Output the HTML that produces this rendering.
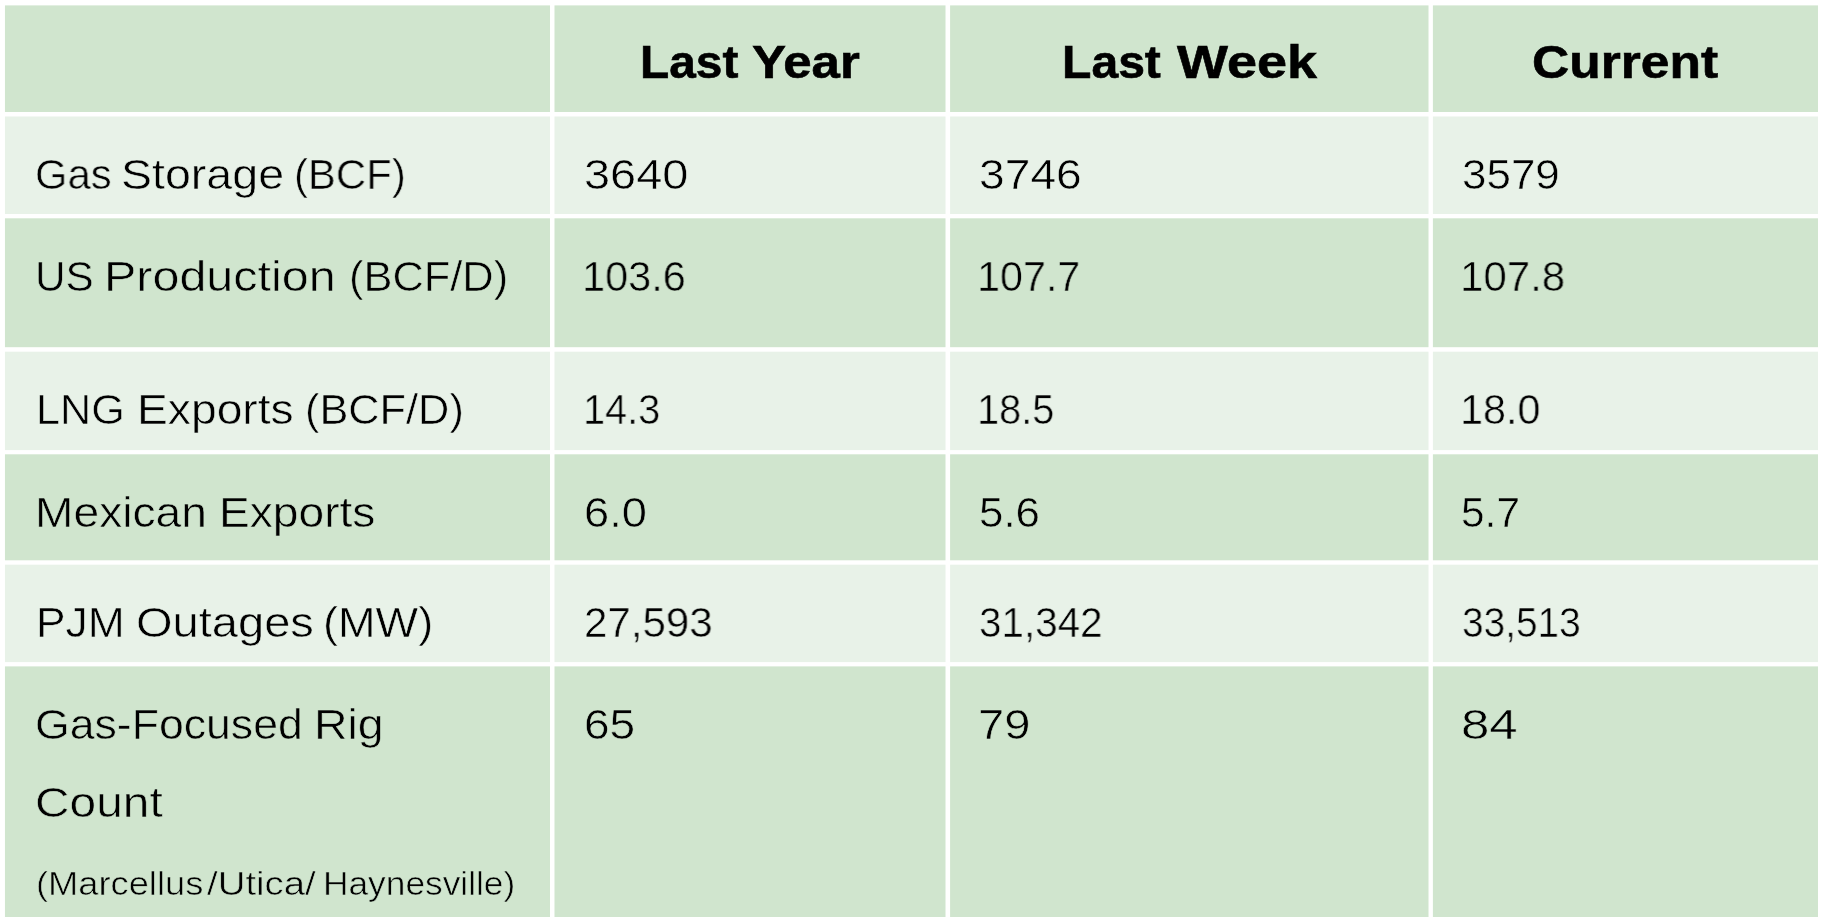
<!DOCTYPE html>
<html lang="en"><head><meta charset="utf-8"><title>Natural Gas Market Fundamentals</title><style>
html,body{margin:0;padding:0;background:#fff;width:1825px;height:924px;overflow:hidden}
.bg{position:absolute;left:0;top:0}
.t{position:absolute;left:0;white-space:nowrap;color:#000;font-family:"Liberation Sans", Arial, sans-serif;line-height:1;font-size:42.3px}
.t span{position:absolute;top:0;transform-origin:0 0;will-change:transform}
.h{font-weight:700;font-size:46.5px;-webkit-text-stroke:0.6px #000}
.s{font-size:32.9px}
.L{-webkit-text-stroke:0.55px #e8f2e8}.D{-webkit-text-stroke:0.55px #d0e5ce}
</style></head><body>
<svg class="bg" width="1825" height="924" viewBox="0 0 1825 924">
<rect x="4.95" y="5.4" width="545.05" height="106.6" fill="#d0e5ce"/>
<rect x="554.5" y="5.4" width="391" height="106.6" fill="#d0e5ce"/>
<rect x="950.1" y="5.4" width="478.4" height="106.6" fill="#d0e5ce"/>
<rect x="1432.9" y="5.4" width="385.1" height="106.6" fill="#d0e5ce"/>
<rect x="4.95" y="116.5" width="545.05" height="97.5" fill="#e8f2e8"/>
<rect x="554.5" y="116.5" width="391" height="97.5" fill="#e8f2e8"/>
<rect x="950.1" y="116.5" width="478.4" height="97.5" fill="#e8f2e8"/>
<rect x="1432.9" y="116.5" width="385.1" height="97.5" fill="#e8f2e8"/>
<rect x="4.95" y="218.3" width="545.05" height="128.9" fill="#d0e5ce"/>
<rect x="554.5" y="218.3" width="391" height="128.9" fill="#d0e5ce"/>
<rect x="950.1" y="218.3" width="478.4" height="128.9" fill="#d0e5ce"/>
<rect x="1432.9" y="218.3" width="385.1" height="128.9" fill="#d0e5ce"/>
<rect x="4.95" y="351.7" width="545.05" height="98.4" fill="#e8f2e8"/>
<rect x="554.5" y="351.7" width="391" height="98.4" fill="#e8f2e8"/>
<rect x="950.1" y="351.7" width="478.4" height="98.4" fill="#e8f2e8"/>
<rect x="1432.9" y="351.7" width="385.1" height="98.4" fill="#e8f2e8"/>
<rect x="4.95" y="454.3" width="545.05" height="106" fill="#d0e5ce"/>
<rect x="554.5" y="454.3" width="391" height="106" fill="#d0e5ce"/>
<rect x="950.1" y="454.3" width="478.4" height="106" fill="#d0e5ce"/>
<rect x="1432.9" y="454.3" width="385.1" height="106" fill="#d0e5ce"/>
<rect x="4.95" y="564.7" width="545.05" height="97.4" fill="#e8f2e8"/>
<rect x="554.5" y="564.7" width="391" height="97.4" fill="#e8f2e8"/>
<rect x="950.1" y="564.7" width="478.4" height="97.4" fill="#e8f2e8"/>
<rect x="1432.9" y="564.7" width="385.1" height="97.4" fill="#e8f2e8"/>
<rect x="4.95" y="666.4" width="545.05" height="250.6" fill="#d0e5ce"/>
<rect x="554.5" y="666.4" width="391" height="250.6" fill="#d0e5ce"/>
<rect x="950.1" y="666.4" width="478.4" height="250.6" fill="#d0e5ce"/>
<rect x="1432.9" y="666.4" width="385.1" height="250.6" fill="#d0e5ce"/>
</svg>
<div class="t h" style="top:38.80px"><span class="w0" style="left:639.78px;transform:scaleX(1.0281)">Last </span><span class="w1" style="left:751.63px;transform:scaleX(1.0973)">Year</span></div>
<div class="t h" style="top:38.80px"><span class="w0" style="left:1062.02px;transform:scaleX(1.0343)">Last </span><span class="w1" style="left:1176.70px;transform:scaleX(1.1610)">Week</span></div>
<div class="t h" style="top:38.80px"><span class="w0" style="left:1531.80px;transform:scaleX(1.1084)">Current</span></div>
<div class="t L" style="top:153.80px"><span class="w0" style="left:34.72px;transform:scaleX(0.9870)">Gas </span><span class="w1" style="left:121.18px;transform:scaleX(1.1004)">Storage </span><span class="w2" style="left:294.08px;transform:scaleX(0.9912)">(BCF)</span></div>
<div class="t L" style="top:153.80px"><span class="w0" style="left:583.58px;transform:scaleX(1.1088)">3640</span></div>
<div class="t L" style="top:153.80px"><span class="w0" style="left:978.66px;transform:scaleX(1.0922)">3746</span></div>
<div class="t L" style="top:153.80px"><span class="w0" style="left:1462.33px;transform:scaleX(1.0395)">3579</span></div>
<div class="t D" style="top:255.70px"><span class="w0" style="left:35.42px;transform:scaleX(0.9932)">US </span><span class="w1" style="left:104.41px;transform:scaleX(1.1455)">Production </span><span class="w2" style="left:348.64px;transform:scaleX(1.0259)">(BCF/D)</span></div>
<div class="t D" style="top:255.70px"><span class="w0" style="left:581.86px;transform:scaleX(0.9814)">103.6</span></div>
<div class="t D" style="top:255.70px"><span class="w0" style="left:977.49px;transform:scaleX(0.9764)">107.7</span></div>
<div class="t D" style="top:255.70px"><span class="w0" style="left:1460.37px;transform:scaleX(0.9941)">107.8</span></div>
<div class="t L" style="top:389.10px"><span class="w0" style="left:35.96px;transform:scaleX(1.0220)">LNG </span><span class="w1" style="left:136.57px;transform:scaleX(1.0929)">Exports </span><span class="w2" style="left:304.86px;transform:scaleX(1.0242)">(BCF/D)</span></div>
<div class="t L" style="top:389.10px"><span class="w0" style="left:582.80px;transform:scaleX(0.9389)">14.3</span></div>
<div class="t L" style="top:389.10px"><span class="w0" style="left:977.26px;transform:scaleX(0.9400)">18.5</span></div>
<div class="t L" style="top:389.10px"><span class="w0" style="left:1460.49px;transform:scaleX(0.9775)">18.0</span></div>
<div class="t D" style="top:492.00px"><span class="w0" style="left:35.23px;transform:scaleX(1.0920)">Mexican </span><span class="w1" style="left:218.82px;transform:scaleX(1.0910)">Exports</span></div>
<div class="t D" style="top:492.00px"><span class="w0" style="left:583.89px;transform:scaleX(1.0691)">6.0</span></div>
<div class="t D" style="top:492.00px"><span class="w0" style="left:978.66px;transform:scaleX(1.0375)">5.6</span></div>
<div class="t D" style="top:492.00px"><span class="w0" style="left:1461.34px;transform:scaleX(1.0032)">5.7</span></div>
<div class="t L" style="top:602.10px"><span class="w0" style="left:35.60px;transform:scaleX(1.0489)">PJM </span><span class="w1" style="left:135.51px;transform:scaleX(1.1123)">Outages </span><span class="w2" style="left:323.10px;transform:scaleX(1.0662)">(MW)</span></div>
<div class="t L" style="top:602.10px"><span class="w0" style="left:584.46px;transform:scaleX(0.9952)">27,593</span></div>
<div class="t L" style="top:602.10px"><span class="w0" style="left:978.71px;transform:scaleX(0.9557)">31,342</span></div>
<div class="t L" style="top:602.10px"><span class="w0" style="left:1462.09px;transform:scaleX(0.9179)">33,513</span></div>
<div class="t D" style="top:703.90px"><span class="w0" style="left:34.94px;transform:scaleX(1.0546)">Gas-Focused </span><span class="w1" style="left:314.29px;transform:scaleX(1.0983)">Rig</span></div>
<div class="t D" style="top:781.90px"><span class="w0" style="left:34.89px;transform:scaleX(1.1313)">Count</span></div>
<div class="t s D" style="top:867.70px"><span class="w0" style="left:35.88px;transform:scaleX(1.1029)">(Marcellus </span><span class="w1" style="left:206.86px;transform:scaleX(1.1668)">/Utica/ </span><span class="w2" style="left:323.12px;transform:scaleX(1.0729)">Haynesville)</span></div>
<div class="t D" style="top:703.90px"><span class="w0" style="left:583.73px;transform:scaleX(1.0881)">65</span></div>
<div class="t D" style="top:703.90px"><span class="w0" style="left:978.38px;transform:scaleX(1.1140)">79</span></div>
<div class="t D" style="top:703.90px"><span class="w0" style="left:1461.25px;transform:scaleX(1.2062)">84</span></div>
</body></html>
